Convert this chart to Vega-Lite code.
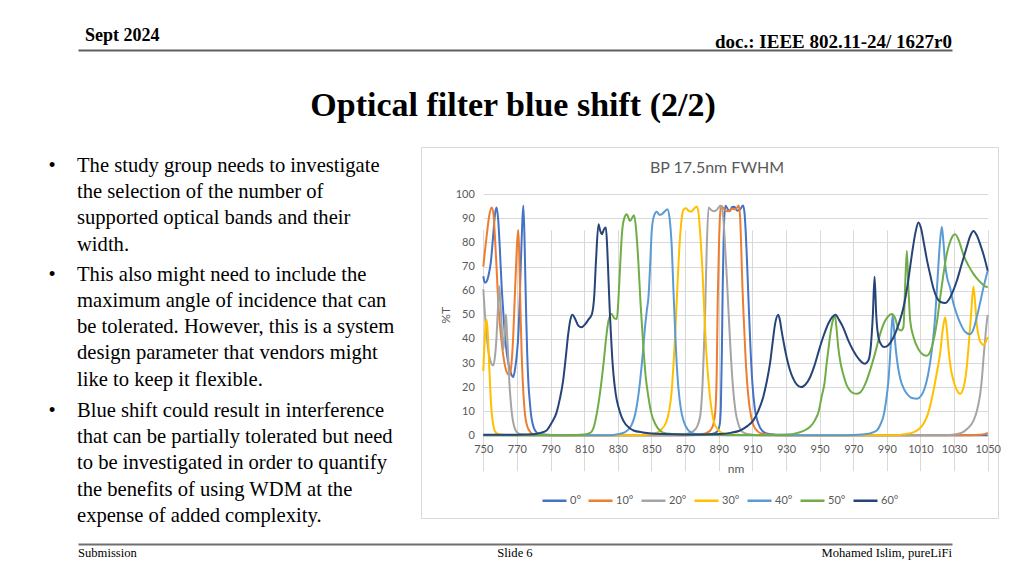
{
  "$schema": "https://vega.github.io/schema/vega-lite/v6.json",
  "padding": {"left": 48, "top": 20, "right": 0, "bottom": 0},
  "background": "white",
  "config": {"view": {"stroke": null}, "font": "Liberation Serif"},
  "bounds": "full",
  "spacing": 17,
  "vconcat": [
    {
      "width": 904,
      "height": 109,
      "view": {"fill": "white", "stroke": null},
      "data": {"values": [{"label": "Sept 2024", "edge": 0}, {"label": "Optical filter blue shift (2/2)", "edge": 0.5}, {"label": "doc.: IEEE 802.11-24/ 1627r0", "edge": 1}]},
      "encoding": {
        "x": {"field": "edge", "type": "quantitative", "scale": {"domain": [0, 1], "range": [30, 904]}, "axis": {"orient": "top", "offset": -30, "domain": true, "domainColor": "#5f5f5f", "domainWidth": 2, "labels": false, "ticks": false, "grid": false, "title": null}},
        "text": {"field": "label"}
      },
      "layer": [
        {"transform": [{"filter": "datum.edge == 0"}], "mark": {"type": "text", "align": "left", "baseline": "alphabetic", "dx": 7, "dy": -33.5, "font": "Liberation Serif", "fontSize": 18, "fontWeight": "bold", "color": "#000000"}},
        {"transform": [{"filter": "datum.edge == 0.5"}], "mark": {"type": "text", "align": "center", "baseline": "alphabetic", "dx": -2, "dy": 41.5, "font": "Liberation Serif", "fontSize": 34, "fontWeight": "bold", "color": "#000000"}},
        {"transform": [{"filter": "datum.edge == 1"}], "mark": {"type": "text", "align": "right", "baseline": "alphabetic", "dy": -26.5, "font": "Liberation Serif", "fontSize": 19, "fontWeight": "bold", "color": "#000000"}}
      ]
    },
    {
      "bounds": "flush",
      "spacing": 315,
      "hconcat": [
        {
          "width": 58,
          "height": 378,
          "view": {"fill": "white", "stroke": null},
          "data": {"values": [
            {"firstLine": 0, "lines": ["The study group needs to investigate", "the selection of the number of", "supported optical bands and their", "width."]},
            {"firstLine": 4, "lines": ["This also might need to include the", "maximum angle of incidence that can", "be tolerated. However, this is a system", "design parameter that vendors might", "like to keep it flexible."]},
            {"firstLine": 9, "lines": ["Blue shift could result in interference", "that can be partially tolerated but need", "to be investigated in order to quantify", "the benefits of using WDM at the", "expense of added complexity."]}
          ]},
          "encoding": {"y": {"field": "firstLine", "type": "quantitative", "scale": {"domain": [0, 9], "range": [25, 270]}, "axis": null}},
          "layer": [
            {"mark": {"type": "text", "align": "left", "baseline": "alphabetic", "font": "Liberation Serif", "fontSize": 20.6, "lineHeight": 26.2, "color": "#000000"}, "encoding": {"text": {"field": "lines"}}},
            {"mark": {"type": "text", "align": "left", "baseline": "alphabetic", "dx": -28.5, "font": "Liberation Serif", "fontSize": 20.6, "color": "#000000"}, "encoding": {"text": {"value": "•"}}}
          ]
        },
        {
          "width": 577,
          "height": 371,
          "view": {"stroke": "#d9d9d9", "strokeWidth": 1, "fill": "white"},
          "title": {"text": "BP 17.5nm FWHM", "font": "Lato", "fontSize": 16, "fontWeight": "normal", "color": "#595959", "anchor": "middle", "baseline": "alphabetic", "offset": -42, "dx": 7.5},
          "data": {"values": [
{"angle":"0°","nm":750,"T":66},{"angle":"0°","nm":751,"T":63.3},{"angle":"0°","nm":752,"T":63.8},{"angle":"0°","nm":753,"T":66},{"angle":"0°","nm":754.5,"T":72},{"angle":"0°","nm":756,"T":84},{"angle":"0°","nm":757,"T":92},{"angle":"0°","nm":757.9,"T":94.5},{"angle":"0°","nm":758.8,"T":90},{"angle":"0°","nm":759.8,"T":78},{"angle":"0°","nm":760.9,"T":62},{"angle":"0°","nm":762,"T":50},{"angle":"0°","nm":762.9,"T":41.2},{"angle":"0°","nm":764,"T":34},{"angle":"0°","nm":764.9,"T":30},{"angle":"0°","nm":766.3,"T":26},{"angle":"0°","nm":767.8,"T":24.2},{"angle":"0°","nm":769,"T":28},{"angle":"0°","nm":770,"T":34},{"angle":"0°","nm":770.8,"T":41.2},{"angle":"0°","nm":771.6,"T":55},{"angle":"0°","nm":772.2,"T":69},{"angle":"0°","nm":773,"T":85},{"angle":"0°","nm":773.8,"T":95.4},{"angle":"0°","nm":774.5,"T":82},{"angle":"0°","nm":775.1,"T":62},{"angle":"0°","nm":775.6,"T":47},{"angle":"0°","nm":776.1,"T":34.3},{"angle":"0°","nm":776.8,"T":22},{"angle":"0°","nm":777.7,"T":13.6},{"angle":"0°","nm":778.6,"T":7.5},{"angle":"0°","nm":779.7,"T":3.9},{"angle":"0°","nm":781,"T":1.8},{"angle":"0°","nm":782.7,"T":0.8},{"angle":"0°","nm":786,"T":0.3},{"angle":"0°","nm":795,"T":0},{"angle":"0°","nm":850,"T":0},{"angle":"0°","nm":880,"T":0.1},{"angle":"0°","nm":886,"T":0.5},{"angle":"0°","nm":889,"T":1.5},{"angle":"0°","nm":890.5,"T":4},{"angle":"0°","nm":891.3,"T":12},{"angle":"0°","nm":891.9,"T":35},{"angle":"0°","nm":892.4,"T":62},{"angle":"0°","nm":893.1,"T":86},{"angle":"0°","nm":894,"T":95.2},{"angle":"0°","nm":895.3,"T":94},{"angle":"0°","nm":896.5,"T":93},{"angle":"0°","nm":898,"T":94.7},{"angle":"0°","nm":899.3,"T":94.8},{"angle":"0°","nm":901,"T":93.2},{"angle":"0°","nm":903,"T":94},{"angle":"0°","nm":904.5,"T":95.4},{"angle":"0°","nm":905.4,"T":92},{"angle":"0°","nm":906.1,"T":84},{"angle":"0°","nm":906.8,"T":73},{"angle":"0°","nm":907.8,"T":55},{"angle":"0°","nm":908.8,"T":38},{"angle":"0°","nm":910,"T":22},{"angle":"0°","nm":911.5,"T":11},{"angle":"0°","nm":913.5,"T":5},{"angle":"0°","nm":916,"T":1.8},{"angle":"0°","nm":920,"T":0.5},{"angle":"0°","nm":930,"T":0},{"angle":"0°","nm":1050,"T":0},
{"angle":"10°","nm":750,"T":70},{"angle":"10°","nm":751,"T":76.5},{"angle":"10°","nm":752,"T":82.7},{"angle":"10°","nm":753.5,"T":91},{"angle":"10°","nm":755,"T":94.5},{"angle":"10°","nm":756,"T":92},{"angle":"10°","nm":756.9,"T":82.7},{"angle":"10°","nm":758,"T":68},{"angle":"10°","nm":758.9,"T":55},{"angle":"10°","nm":760,"T":45},{"angle":"10°","nm":760.9,"T":38.5},{"angle":"10°","nm":762,"T":32.5},{"angle":"10°","nm":762.9,"T":28.8},{"angle":"10°","nm":764.5,"T":25.5},{"angle":"10°","nm":765.8,"T":24.9},{"angle":"10°","nm":766.8,"T":30},{"angle":"10°","nm":767.8,"T":41.2},{"angle":"10°","nm":768.7,"T":57},{"angle":"10°","nm":769.4,"T":69},{"angle":"10°","nm":770.2,"T":81},{"angle":"10°","nm":770.8,"T":85.2},{"angle":"10°","nm":771.3,"T":77},{"angle":"10°","nm":771.8,"T":62},{"angle":"10°","nm":772.3,"T":47},{"angle":"10°","nm":772.8,"T":34.3},{"angle":"10°","nm":773.5,"T":22},{"angle":"10°","nm":774.2,"T":13.6},{"angle":"10°","nm":775,"T":7.5},{"angle":"10°","nm":776.1,"T":3.9},{"angle":"10°","nm":777.5,"T":1.8},{"angle":"10°","nm":778.7,"T":0.8},{"angle":"10°","nm":782,"T":0.3},{"angle":"10°","nm":790,"T":0},{"angle":"10°","nm":870,"T":0},{"angle":"10°","nm":878,"T":0.3},{"angle":"10°","nm":882,"T":0.8},{"angle":"10°","nm":885,"T":2},{"angle":"10°","nm":886.8,"T":4.5},{"angle":"10°","nm":888,"T":10},{"angle":"10°","nm":888.8,"T":25},{"angle":"10°","nm":889.4,"T":55},{"angle":"10°","nm":890.1,"T":77},{"angle":"10°","nm":890.7,"T":90},{"angle":"10°","nm":891.4,"T":95.2},{"angle":"10°","nm":892.5,"T":94.5},{"angle":"10°","nm":894,"T":93.3},{"angle":"10°","nm":895,"T":93},{"angle":"10°","nm":896.5,"T":93.3},{"angle":"10°","nm":898,"T":94},{"angle":"10°","nm":899.5,"T":93.8},{"angle":"10°","nm":901,"T":94.5},{"angle":"10°","nm":901.9,"T":95.4},{"angle":"10°","nm":902.7,"T":91},{"angle":"10°","nm":903.4,"T":78},{"angle":"10°","nm":904.1,"T":62},{"angle":"10°","nm":904.8,"T":50},{"angle":"10°","nm":906,"T":32},{"angle":"10°","nm":907.5,"T":17},{"angle":"10°","nm":909.5,"T":7},{"angle":"10°","nm":912,"T":2.5},{"angle":"10°","nm":916,"T":0.6},{"angle":"10°","nm":925,"T":0},{"angle":"10°","nm":1040,"T":0},{"angle":"10°","nm":1045,"T":0.2},{"angle":"10°","nm":1048,"T":0.5},{"angle":"10°","nm":1050,"T":1},
{"angle":"20°","nm":750,"T":60.6},{"angle":"20°","nm":751,"T":50},{"angle":"20°","nm":752,"T":41.2},{"angle":"20°","nm":753,"T":35},{"angle":"20°","nm":754,"T":31.5},{"angle":"20°","nm":755,"T":29.5},{"angle":"20°","nm":755.9,"T":29},{"angle":"20°","nm":757,"T":33},{"angle":"20°","nm":757.9,"T":41.2},{"angle":"20°","nm":758.8,"T":54},{"angle":"20°","nm":759.5,"T":62},{"angle":"20°","nm":760.2,"T":55},{"angle":"20°","nm":760.9,"T":45.4},{"angle":"20°","nm":761.9,"T":35.7},{"angle":"20°","nm":762.7,"T":42},{"angle":"20°","nm":763.5,"T":50.2},{"angle":"20°","nm":764.2,"T":41},{"angle":"20°","nm":764.9,"T":31.5},{"angle":"20°","nm":765.5,"T":22},{"angle":"20°","nm":766.2,"T":15},{"angle":"20°","nm":767,"T":9},{"angle":"20°","nm":767.8,"T":5.3},{"angle":"20°","nm":768.8,"T":2.8},{"angle":"20°","nm":769.8,"T":1.4},{"angle":"20°","nm":772,"T":0.5},{"angle":"20°","nm":776,"T":0.15},{"angle":"20°","nm":785,"T":0},{"angle":"20°","nm":860,"T":0},{"angle":"20°","nm":868,"T":0.3},{"angle":"20°","nm":872,"T":0.8},{"angle":"20°","nm":875,"T":1.8},{"angle":"20°","nm":877,"T":3.4},{"angle":"20°","nm":879,"T":8},{"angle":"20°","nm":880.5,"T":22.8},{"angle":"20°","nm":881.3,"T":38},{"angle":"20°","nm":881.9,"T":50},{"angle":"20°","nm":882.9,"T":78},{"angle":"20°","nm":884,"T":94.5},{"angle":"20°","nm":885.5,"T":93.5},{"angle":"20°","nm":887,"T":93},{"angle":"20°","nm":888.5,"T":93.3},{"angle":"20°","nm":890,"T":94.5},{"angle":"20°","nm":891,"T":95.2},{"angle":"20°","nm":892,"T":94},{"angle":"20°","nm":893,"T":88},{"angle":"20°","nm":894,"T":76},{"angle":"20°","nm":894.8,"T":66},{"angle":"20°","nm":895.8,"T":52},{"angle":"20°","nm":897,"T":36},{"angle":"20°","nm":898.5,"T":20},{"angle":"20°","nm":900,"T":10},{"angle":"20°","nm":902,"T":4},{"angle":"20°","nm":904,"T":1.5},{"angle":"20°","nm":908,"T":0.4},{"angle":"20°","nm":915,"T":0},{"angle":"20°","nm":1025,"T":0},{"angle":"20°","nm":1030,"T":0.3},{"angle":"20°","nm":1035,"T":1.2},{"angle":"20°","nm":1038,"T":2.8},{"angle":"20°","nm":1041.5,"T":6},{"angle":"20°","nm":1043.5,"T":10},{"angle":"20°","nm":1045.5,"T":17},{"angle":"20°","nm":1046.5,"T":23},{"angle":"20°","nm":1047.5,"T":32},{"angle":"20°","nm":1048.5,"T":40},{"angle":"20°","nm":1049.3,"T":46},{"angle":"20°","nm":1050,"T":50},
{"angle":"30°","nm":750,"T":26.7},{"angle":"30°","nm":750.7,"T":38},{"angle":"30°","nm":751.4,"T":46},{"angle":"30°","nm":752,"T":48.1},{"angle":"30°","nm":752.7,"T":42},{"angle":"30°","nm":753.6,"T":27.4},{"angle":"30°","nm":754.3,"T":17},{"angle":"30°","nm":755,"T":9.4},{"angle":"30°","nm":756,"T":4},{"angle":"30°","nm":756.9,"T":1.8},{"angle":"30°","nm":758.5,"T":0.6},{"angle":"30°","nm":761,"T":0.2},{"angle":"30°","nm":770,"T":0},{"angle":"30°","nm":840,"T":0},{"angle":"30°","nm":848,"T":0.4},{"angle":"30°","nm":853,"T":1},{"angle":"30°","nm":856,"T":2.5},{"angle":"30°","nm":858.5,"T":5},{"angle":"30°","nm":860.5,"T":10},{"angle":"30°","nm":862,"T":18},{"angle":"30°","nm":863,"T":28},{"angle":"30°","nm":864,"T":40},{"angle":"30°","nm":865,"T":55},{"angle":"30°","nm":866,"T":70},{"angle":"30°","nm":867,"T":82},{"angle":"30°","nm":868,"T":90},{"angle":"30°","nm":869.3,"T":93.8},{"angle":"30°","nm":870.6,"T":94.2},{"angle":"30°","nm":872,"T":93.2},{"angle":"30°","nm":873.6,"T":92.8},{"angle":"30°","nm":875.3,"T":94},{"angle":"30°","nm":877.1,"T":94.9},{"angle":"30°","nm":878.2,"T":91},{"angle":"30°","nm":879.1,"T":82.8},{"angle":"30°","nm":880.5,"T":66},{"angle":"30°","nm":881.5,"T":50},{"angle":"30°","nm":882.6,"T":35},{"angle":"30°","nm":883.9,"T":22.8},{"angle":"30°","nm":885.3,"T":13},{"angle":"30°","nm":886.8,"T":6.5},{"angle":"30°","nm":889,"T":2.8},{"angle":"30°","nm":892.8,"T":0.8},{"angle":"30°","nm":900,"T":0.2},{"angle":"30°","nm":915,"T":0},{"angle":"30°","nm":995,"T":0},{"angle":"30°","nm":1000,"T":0.4},{"angle":"30°","nm":1005,"T":1},{"angle":"30°","nm":1009,"T":2.5},{"angle":"30°","nm":1012,"T":5},{"angle":"30°","nm":1014.5,"T":9},{"angle":"30°","nm":1017,"T":16},{"angle":"30°","nm":1019.5,"T":25},{"angle":"30°","nm":1021.7,"T":34},{"angle":"30°","nm":1023.3,"T":44},{"angle":"30°","nm":1024.7,"T":49},{"angle":"30°","nm":1025.7,"T":44},{"angle":"30°","nm":1026.6,"T":36.6},{"angle":"30°","nm":1028,"T":28},{"angle":"30°","nm":1029.6,"T":22.8},{"angle":"30°","nm":1031.5,"T":19},{"angle":"30°","nm":1033.6,"T":17.2},{"angle":"30°","nm":1035.5,"T":19.5},{"angle":"30°","nm":1037.5,"T":28},{"angle":"30°","nm":1039,"T":40},{"angle":"30°","nm":1040.1,"T":50},{"angle":"30°","nm":1041.5,"T":61.7},{"angle":"30°","nm":1042.5,"T":55},{"angle":"30°","nm":1043.5,"T":46},{"angle":"30°","nm":1045,"T":40},{"angle":"30°","nm":1046.5,"T":38},{"angle":"30°","nm":1047.9,"T":37.5},{"angle":"30°","nm":1049,"T":39},{"angle":"30°","nm":1050,"T":40.7},
{"angle":"40°","nm":750,"T":0},{"angle":"40°","nm":825,"T":0},{"angle":"40°","nm":830,"T":0.4},{"angle":"40°","nm":834,"T":1.2},{"angle":"40°","nm":838,"T":4},{"angle":"40°","nm":841,"T":11},{"angle":"40°","nm":843.3,"T":22.8},{"angle":"40°","nm":845,"T":35},{"angle":"40°","nm":846.2,"T":45},{"angle":"40°","nm":847.3,"T":52},{"angle":"40°","nm":848.3,"T":58},{"angle":"40°","nm":849.2,"T":70},{"angle":"40°","nm":850.2,"T":85},{"angle":"40°","nm":851.5,"T":91},{"angle":"40°","nm":853.2,"T":92.8},{"angle":"40°","nm":854.7,"T":91.5},{"angle":"40°","nm":856.1,"T":91.7},{"angle":"40°","nm":858,"T":93},{"angle":"40°","nm":859.5,"T":93.8},{"angle":"40°","nm":860.8,"T":90},{"angle":"40°","nm":862.1,"T":78},{"angle":"40°","nm":863.1,"T":60},{"angle":"40°","nm":864.1,"T":43.4},{"angle":"40°","nm":865,"T":30},{"angle":"40°","nm":866,"T":20},{"angle":"40°","nm":867.5,"T":11},{"angle":"40°","nm":869,"T":6.2},{"angle":"40°","nm":872,"T":2},{"angle":"40°","nm":875,"T":0.7},{"angle":"40°","nm":880,"T":0.3},{"angle":"40°","nm":895,"T":0},{"angle":"40°","nm":965,"T":0},{"angle":"40°","nm":975,"T":0.3},{"angle":"40°","nm":980,"T":0.8},{"angle":"40°","nm":984,"T":2},{"angle":"40°","nm":986.5,"T":5},{"angle":"40°","nm":988,"T":8},{"angle":"40°","nm":989.5,"T":14},{"angle":"40°","nm":991,"T":23},{"angle":"40°","nm":992.3,"T":37},{"angle":"40°","nm":993.4,"T":49.7},{"angle":"40°","nm":994.3,"T":44},{"angle":"40°","nm":995.2,"T":36.6},{"angle":"40°","nm":996.5,"T":29},{"angle":"40°","nm":998,"T":23.5},{"angle":"40°","nm":1000,"T":19.5},{"angle":"40°","nm":1002.5,"T":16.8},{"angle":"40°","nm":1005,"T":15.5},{"angle":"40°","nm":1008,"T":15.2},{"angle":"40°","nm":1010.5,"T":16.5},{"angle":"40°","nm":1012.5,"T":19.5},{"angle":"40°","nm":1014.5,"T":25},{"angle":"40°","nm":1016.7,"T":35},{"angle":"40°","nm":1018.5,"T":47},{"angle":"40°","nm":1020.1,"T":64},{"angle":"40°","nm":1021.5,"T":79},{"angle":"40°","nm":1022.7,"T":86.5},{"angle":"40°","nm":1023.7,"T":80},{"angle":"40°","nm":1024.7,"T":71},{"angle":"40°","nm":1026,"T":65},{"angle":"40°","nm":1027.6,"T":61.4},{"angle":"40°","nm":1029.5,"T":55},{"angle":"40°","nm":1031.6,"T":50.3},{"angle":"40°","nm":1034,"T":46},{"angle":"40°","nm":1036.5,"T":43},{"angle":"40°","nm":1039.5,"T":42},{"angle":"40°","nm":1041.5,"T":44},{"angle":"40°","nm":1043.5,"T":49},{"angle":"40°","nm":1045.5,"T":55},{"angle":"40°","nm":1047.5,"T":61.4},{"angle":"40°","nm":1050,"T":68.3},
{"angle":"50°","nm":750,"T":0},{"angle":"50°","nm":800,"T":0},{"angle":"50°","nm":810,"T":0.3},{"angle":"50°","nm":813.6,"T":1},{"angle":"50°","nm":815.5,"T":3},{"angle":"50°","nm":817.5,"T":9},{"angle":"50°","nm":819.5,"T":18},{"angle":"50°","nm":821.5,"T":29.7},{"angle":"50°","nm":823,"T":40},{"angle":"50°","nm":824.5,"T":47.6},{"angle":"50°","nm":826.4,"T":50.3},{"angle":"50°","nm":828,"T":48.5},{"angle":"50°","nm":829.4,"T":48.3},{"angle":"50°","nm":830.5,"T":58},{"angle":"50°","nm":831.5,"T":72},{"angle":"50°","nm":832.5,"T":84},{"angle":"50°","nm":833.8,"T":90},{"angle":"50°","nm":835.3,"T":91.7},{"angle":"50°","nm":837.3,"T":89},{"angle":"50°","nm":839.7,"T":91.3},{"angle":"50°","nm":840.8,"T":86},{"angle":"50°","nm":842.3,"T":71},{"angle":"50°","nm":843.5,"T":55},{"angle":"50°","nm":845.2,"T":36.6},{"angle":"50°","nm":846.5,"T":25},{"angle":"50°","nm":848.2,"T":15.9},{"angle":"50°","nm":850,"T":9},{"angle":"50°","nm":852.2,"T":4.8},{"angle":"50°","nm":855,"T":2},{"angle":"50°","nm":859,"T":0.7},{"angle":"50°","nm":870,"T":0.2},{"angle":"50°","nm":900,"T":0.1},{"angle":"50°","nm":930,"T":0.3},{"angle":"50°","nm":937,"T":1},{"angle":"50°","nm":942.3,"T":2.5},{"angle":"50°","nm":945,"T":4},{"angle":"50°","nm":947.2,"T":6.2},{"angle":"50°","nm":949.5,"T":10},{"angle":"50°","nm":951.2,"T":15.9},{"angle":"50°","nm":953,"T":22},{"angle":"50°","nm":954.2,"T":29.7},{"angle":"50°","nm":955.5,"T":37},{"angle":"50°","nm":956.7,"T":43.4},{"angle":"50°","nm":958,"T":48},{"angle":"50°","nm":959.1,"T":49.7},{"angle":"50°","nm":960,"T":45},{"angle":"50°","nm":961.1,"T":36.6},{"angle":"50°","nm":962.5,"T":30},{"angle":"50°","nm":964,"T":25.5},{"angle":"50°","nm":966,"T":21},{"angle":"50°","nm":968,"T":18.6},{"angle":"50°","nm":970,"T":17.5},{"angle":"50°","nm":972,"T":17.2},{"angle":"50°","nm":974.2,"T":17.8},{"angle":"50°","nm":977,"T":21},{"angle":"50°","nm":980,"T":26.9},{"angle":"50°","nm":983,"T":34},{"angle":"50°","nm":986,"T":42},{"angle":"50°","nm":989,"T":47.5},{"angle":"50°","nm":991,"T":49.5},{"angle":"50°","nm":993,"T":50.3},{"angle":"50°","nm":995,"T":48.5},{"angle":"50°","nm":997,"T":44},{"angle":"50°","nm":998.5,"T":43.5},{"angle":"50°","nm":999.9,"T":45},{"angle":"50°","nm":1000.8,"T":60},{"angle":"50°","nm":1001.9,"T":76.6},{"angle":"50°","nm":1002.8,"T":62},{"angle":"50°","nm":1003.9,"T":47.6},{"angle":"50°","nm":1006,"T":40.5},{"angle":"50°","nm":1009,"T":35.5},{"angle":"50°","nm":1011.5,"T":33.5},{"angle":"50°","nm":1013.8,"T":33},{"angle":"50°","nm":1016,"T":35},{"angle":"50°","nm":1018,"T":40},{"angle":"50°","nm":1020,"T":48},{"angle":"50°","nm":1021.7,"T":57},{"angle":"50°","nm":1023.5,"T":66},{"angle":"50°","nm":1025.6,"T":75},{"angle":"50°","nm":1028,"T":81},{"angle":"50°","nm":1030.6,"T":83.4},{"angle":"50°","nm":1033,"T":80.5},{"angle":"50°","nm":1035.5,"T":75},{"angle":"50°","nm":1038.5,"T":70.5},{"angle":"50°","nm":1041.5,"T":67},{"angle":"50°","nm":1045,"T":64},{"angle":"50°","nm":1048,"T":62},{"angle":"50°","nm":1050,"T":61.4},
{"angle":"60°","nm":750,"T":0.2},{"angle":"60°","nm":770,"T":0.2},{"angle":"60°","nm":780,"T":0.4},{"angle":"60°","nm":784,"T":1},{"angle":"60°","nm":787.6,"T":2},{"angle":"60°","nm":790.5,"T":5},{"angle":"60°","nm":793.6,"T":9.5},{"angle":"60°","nm":795.5,"T":15},{"angle":"60°","nm":797.5,"T":22.8},{"angle":"60°","nm":799,"T":32},{"angle":"60°","nm":800.5,"T":42},{"angle":"60°","nm":801.8,"T":48},{"angle":"60°","nm":803,"T":50},{"angle":"60°","nm":804.5,"T":48.5},{"angle":"60°","nm":806.5,"T":45.5},{"angle":"60°","nm":808.4,"T":44.8},{"angle":"60°","nm":810.5,"T":46},{"angle":"60°","nm":812.5,"T":48},{"angle":"60°","nm":814.6,"T":50.3},{"angle":"60°","nm":816,"T":58},{"angle":"60°","nm":817,"T":72},{"angle":"60°","nm":818.5,"T":87.6},{"angle":"60°","nm":819.5,"T":85},{"angle":"60°","nm":820.5,"T":83.4},{"angle":"60°","nm":821.8,"T":85.5},{"angle":"60°","nm":822.9,"T":86.2},{"angle":"60°","nm":823.7,"T":78},{"angle":"60°","nm":824.5,"T":64},{"angle":"60°","nm":825.2,"T":52},{"angle":"60°","nm":825.8,"T":43.4},{"angle":"60°","nm":826.6,"T":33},{"angle":"60°","nm":827.4,"T":25.5},{"angle":"60°","nm":828.8,"T":17},{"angle":"60°","nm":830.4,"T":11.7},{"angle":"60°","nm":832.3,"T":7.5},{"angle":"60°","nm":834.4,"T":4.8},{"angle":"60°","nm":837,"T":3},{"angle":"60°","nm":839.3,"T":2},{"angle":"60°","nm":845,"T":1.2},{"angle":"60°","nm":857,"T":0.5},{"angle":"60°","nm":870,"T":0.3},{"angle":"60°","nm":880,"T":0.3},{"angle":"60°","nm":890.8,"T":0.5},{"angle":"60°","nm":897,"T":1},{"angle":"60°","nm":902.7,"T":2},{"angle":"60°","nm":907,"T":3.8},{"angle":"60°","nm":910.6,"T":6.2},{"angle":"60°","nm":913.5,"T":10},{"angle":"60°","nm":916.5,"T":15.9},{"angle":"60°","nm":918.5,"T":22},{"angle":"60°","nm":920.5,"T":29.7},{"angle":"60°","nm":922,"T":38},{"angle":"60°","nm":923.5,"T":46},{"angle":"60°","nm":925.4,"T":50},{"angle":"60°","nm":926.5,"T":47.5},{"angle":"60°","nm":927.4,"T":43.4},{"angle":"60°","nm":928.8,"T":38},{"angle":"60°","nm":930.4,"T":32.4},{"angle":"60°","nm":932.4,"T":27},{"angle":"60°","nm":934.4,"T":23.4},{"angle":"60°","nm":936.5,"T":21},{"angle":"60°","nm":938.9,"T":20},{"angle":"60°","nm":941.5,"T":21},{"angle":"60°","nm":944.3,"T":24},{"angle":"60°","nm":947,"T":29},{"angle":"60°","nm":950.2,"T":36.6},{"angle":"60°","nm":952.5,"T":41.5},{"angle":"60°","nm":955.1,"T":46.2},{"angle":"60°","nm":957.5,"T":49},{"angle":"60°","nm":959.5,"T":50},{"angle":"60°","nm":961.5,"T":48},{"angle":"60°","nm":964,"T":44.8},{"angle":"60°","nm":967,"T":39.5},{"angle":"60°","nm":970,"T":35.2},{"angle":"60°","nm":973.5,"T":31.5},{"angle":"60°","nm":976.9,"T":29.7},{"angle":"60°","nm":979,"T":31},{"angle":"60°","nm":980.5,"T":37},{"angle":"60°","nm":981.7,"T":50},{"angle":"60°","nm":982.7,"T":65.8},{"angle":"60°","nm":983.7,"T":50},{"angle":"60°","nm":985,"T":40.7},{"angle":"60°","nm":986.8,"T":37.5},{"angle":"60°","nm":988.4,"T":36.6},{"angle":"60°","nm":991,"T":37.5},{"angle":"60°","nm":994,"T":40.7},{"angle":"60°","nm":997,"T":46},{"angle":"60°","nm":999.9,"T":53},{"angle":"60°","nm":1002.5,"T":63},{"angle":"60°","nm":1004.9,"T":75},{"angle":"60°","nm":1007,"T":84},{"angle":"60°","nm":1008.8,"T":88.3},{"angle":"60°","nm":1010.3,"T":86},{"angle":"60°","nm":1011.8,"T":80.7},{"angle":"60°","nm":1013.8,"T":73},{"angle":"60°","nm":1015.7,"T":66.9},{"angle":"60°","nm":1017.7,"T":61},{"angle":"60°","nm":1019.7,"T":57.2},{"angle":"60°","nm":1022,"T":55.3},{"angle":"60°","nm":1024.7,"T":54.9},{"angle":"60°","nm":1027.5,"T":57},{"angle":"60°","nm":1029.5,"T":60},{"angle":"60°","nm":1031.6,"T":64},{"angle":"60°","nm":1034.5,"T":71},{"angle":"60°","nm":1037.5,"T":78},{"angle":"60°","nm":1039.5,"T":82.5},{"angle":"60°","nm":1041.5,"T":84.8},{"angle":"60°","nm":1043.5,"T":83},{"angle":"60°","nm":1045.5,"T":79.3},{"angle":"60°","nm":1047.5,"T":75},{"angle":"60°","nm":1050,"T":68.3}
          ]},
          "mark": {"type": "line", "interpolate": "monotone", "strokeWidth": 2},
          "encoding": {
            "x": {"field": "nm", "type": "quantitative", "scale": {"domain": [750, 1050], "range": [62.3, 566.7], "nice": false, "zero": false},
              "axis": {"orient": "bottom", "offset": -82.7, "values": [750,770,790,810,830,850,870,890,910,930,950,970,990,1010,1030,1050], "format": "d", "title": "nm", "grid": true, "gridColor": "#d9d9d9", "gridWidth": 1, "domain": true, "domainColor": "#d9d9d9", "ticks": false, "tickSize": 0, "labelFont": "Lato", "labelFontSize": 11, "labelColor": "#595959", "labelPadding": 8, "labelFlush": false, "labelOverlap": false, "titleFont": "Lato", "titleFontSize": 12, "titleColor": "#595959", "titleFontWeight": "normal", "titlePadding": 9}},
            "y": {"field": "T", "type": "quantitative", "scale": {"domain": [0, 100], "range": [288.3, 47.3], "nice": false, "zero": false},
              "axis": {"orient": "left", "offset": -62.3, "values": [0,10,20,30,40,50,60,70,80,90,100], "format": "d", "title": "%T", "grid": true, "gridColor": "#d9d9d9", "gridWidth": 1, "domain": false, "ticks": false, "tickSize": 0, "labelFont": "Lato", "labelFontSize": 11, "labelColor": "#595959", "labelPadding": 9, "labelFlush": false, "labelOverlap": false, "titleFont": "Lato", "titleFontSize": 12, "titleColor": "#595959", "titleFontWeight": "normal", "titlePadding": 3}},
            "color": {"field": "angle", "type": "nominal",
              "scale": {"domain": ["0°","10°","20°","30°","40°","50°","60°"], "range": ["#4472C4","#ED7D31","#A5A5A5","#FFC000","#5B9BD5","#70AD47","#264478"]},
              "legend": {"orient": "none", "legendX": 493, "legendY": 467, "direction": "horizontal", "title": null, "symbolType": "stroke", "symbolSize": 576, "symbolStrokeWidth": 2.5, "labelFont": "Lato", "labelFontSize": 11, "labelColor": "#595959", "labelOffset": 2, "columnPadding": 2}}
          }
        }
      ]
    },
    {
      "width": 904,
      "height": 17,
      "view": {"fill": "white", "stroke": null},
      "data": {"values": [{"label": "Submission", "edge": 0}, {"label": "Slide 6", "edge": 0.5}, {"label": "Mohamed Islim, pureLiFi", "edge": 1}]},
      "encoding": {
        "x": {"field": "edge", "type": "quantitative", "scale": {"domain": [0, 1], "range": [30, 904]}, "axis": {"orient": "top", "domain": true, "domainColor": "#6f6f6f", "domainWidth": 2, "labels": false, "ticks": false, "grid": false, "title": null}},
        "text": {"field": "label"}
      },
      "layer": [
        {"transform": [{"filter": "datum.edge == 0"}], "mark": {"type": "text", "align": "left", "baseline": "alphabetic", "dy": 4.5, "font": "Liberation Serif", "fontSize": 12.6, "color": "#000000"}},
        {"transform": [{"filter": "datum.edge == 0.5"}], "mark": {"type": "text", "align": "center", "baseline": "alphabetic", "dy": 4.5, "font": "Liberation Serif", "fontSize": 12.6, "color": "#000000"}},
        {"transform": [{"filter": "datum.edge == 1"}], "mark": {"type": "text", "align": "right", "baseline": "alphabetic", "dy": 4.5, "font": "Liberation Serif", "fontSize": 12.6, "color": "#000000"}}
      ]
    }
  ]
}
